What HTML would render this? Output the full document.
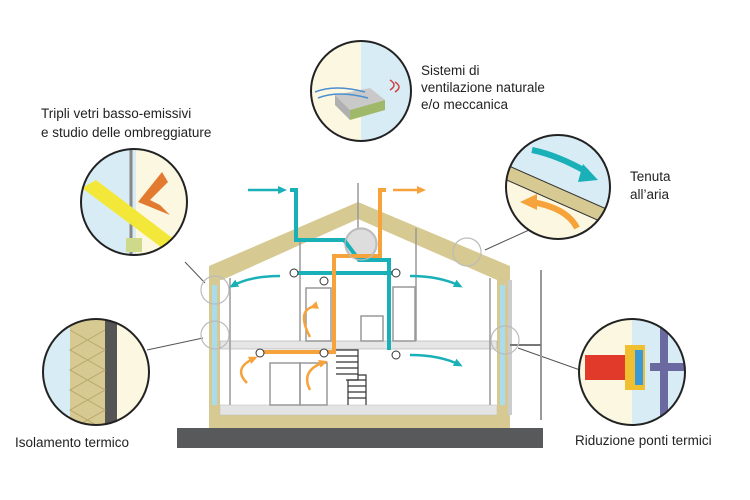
<!DOCTYPE html><html><head><style>body{margin:0;background:#fff}svg{display:block}text{font-family:"Liberation Sans",sans-serif;font-size:13.5px;fill:#222}</style></head><body>
<svg width="750" height="500" viewBox="0 0 750 500">
<defs>
<marker id="at" markerUnits="userSpaceOnUse" markerWidth="10" markerHeight="10" refX="6" refY="5" orient="auto"><path d="M0,1L9,5L0,9z" fill="#1ab0b8"/></marker>
<marker id="ao" markerUnits="userSpaceOnUse" markerWidth="10" markerHeight="10" refX="6" refY="5" orient="auto"><path d="M0,1L9,5L0,9z" fill="#f5a33a"/></marker>
<clipPath id="c1"><circle cx="361" cy="91" r="50"/></clipPath>
<clipPath id="c2"><circle cx="134" cy="202" r="53"/></clipPath>
<clipPath id="c3"><circle cx="558" cy="187" r="52"/></clipPath>
<clipPath id="c4"><circle cx="96" cy="372" r="53"/></clipPath>
<clipPath id="c5"><circle cx="632" cy="372" r="53"/></clipPath>
</defs>
<g stroke="#555" stroke-width="1"><line x1="185" y1="262" x2="205" y2="283"/><line x1="147" y1="350" x2="203" y2="338"/><line x1="540" y1="225" x2="485" y2="250"/><line x1="518" y1="348" x2="580" y2="370"/></g>
<rect x="177" y="428" width="366" height="20" fill="#58595b"/>
<rect x="209" y="415" width="301" height="13" fill="#d6c992"/>
<rect x="220" y="405" width="277" height="10" fill="#e4e4e4" stroke="#bbb" stroke-width=".5"/>
<rect x="209" y="268" width="11" height="150" fill="#d6c992"/>
<rect x="497" y="268" width="11" height="150" fill="#d6c992"/>
<rect x="212" y="285" width="5" height="120" fill="#a9dcef"/>
<rect x="500" y="285" width="5" height="120" fill="#a9dcef"/>
<rect x="220" y="341" width="277" height="8" fill="#e6e6e6" stroke="#aaa" stroke-width=".6"/>
<rect x="508" y="280" width="4" height="135" fill="#ccc"/>
<line x1="541" y1="270" x2="541" y2="420" stroke="#999" stroke-width="2"/>
<line x1="510" y1="345" x2="541" y2="345" stroke="#777" stroke-width="2"/>
<polygon points="209,266 358,202 510,266 510,280 497,280 358,219 222,280 209,280" fill="#d6c992"/>
<g fill="none" stroke="#999" stroke-width="1.5">
<rect x="306" y="288" width="25" height="53"/><rect x="393" y="287" width="22" height="54"/>
<rect x="270" y="363" width="30" height="42"/><rect x="300" y="363" width="27" height="42"/>
<rect x="361" y="316" width="22" height="25"/>
<line x1="300" y1="240" x2="300" y2="341"/><line x1="416" y1="228" x2="416" y2="341"/>
<line x1="230" y1="278" x2="230" y2="405"/><line x1="490" y1="278" x2="490" y2="405"/>
<line x1="358" y1="183" x2="358" y2="230"/>
</g>
<g stroke="#333" stroke-width="1.2" fill="none">
<path d="M336,350h22v30h-10v25M358,350v25h8v30"/>
<path d="M336,356h22M336,362h22M336,368h22M336,374h22M346,380h20M348,386h18M348,392h18M348,398h18"/>
</g>
<circle cx="361" cy="244" r="15" fill="#ddd" stroke="#bbb"/>
<g fill="none" stroke-width="4">
<path d="M290,190h6v50h48l15,20h30v90" stroke="#1ab0b8"/>
<path d="M290,273h106" stroke="#1ab0b8"/>
<path d="M386,190h-6v66h-46v96h-72" stroke="#f5a33a"/>
</g>
<g stroke-width="2.5" fill="none">
<path d="M248,190h36" stroke="#1ab0b8" marker-end="url(#at)"/>
<path d="M393,190h30" stroke="#f5a33a" marker-end="url(#ao)"/>
<path d="M280,276q-30,0-48,10" stroke="#1ab0b8" marker-end="url(#at)"/>
<path d="M410,276q30,0,50,10" stroke="#1ab0b8" marker-end="url(#at)"/>
<path d="M410,355q30,0,50,10" stroke="#1ab0b8" marker-end="url(#at)"/>
<path d="M312,307q-15,5-2,30" stroke="#f5a33a" marker-start="url(#ao)"/>
<path d="M247,383q-15,-15,8,-25" stroke="#f5a33a" marker-end="url(#ao)"/>
<path d="M310,390q-10,-20,15,-28" stroke="#f5a33a" marker-end="url(#ao)"/>
</g>
<g fill="#fff" stroke="#333" stroke-width="1"><circle cx="294" cy="273" r="4"/><circle cx="324" cy="281" r="4"/><circle cx="396" cy="273" r="4"/><circle cx="260" cy="353" r="4"/><circle cx="324" cy="353" r="4"/><circle cx="396" cy="355" r="4"/></g>
<g fill="none" stroke="#bbb" stroke-width="1.2"><circle cx="215" cy="290" r="14"/><circle cx="215" cy="335" r="14"/><circle cx="467" cy="252" r="14"/><circle cx="505" cy="340" r="14"/><circle cx="361" cy="244" r="16"/></g>
<g clip-path="url(#c1)"><rect x="300" y="30" width="61" height="130" fill="#fcf7e1"/><rect x="361" y="30" width="60" height="130" fill="#d8ecf6"/>
<polygon points="335,95 370,88 385,100 350,110" fill="#c9c9c9"/><polygon points="335,95 350,110 350,120 335,105" fill="#b0b0b0"/><polygon points="350,110 385,100 385,110 350,120" fill="#9fb86a"/>
<path d="M315,92q20,-8 50,0M318,98q20,-8 50,0" stroke="#4a8fd0" stroke-width="1.5" fill="none"/><path d="M390,90q8,-5 0,-10M395,92q8,-5 0,-10" stroke="#d04040" stroke-width="1.5" fill="none"/></g>
<circle cx="361" cy="91" r="50" fill="none" stroke="#222" stroke-width="2"/>
<g clip-path="url(#c2)"><rect x="75" y="140" width="120" height="130" fill="#d8ecf6"/><rect x="136" y="140" width="60" height="130" fill="#fcf7e1"/>
<line x1="131" y1="140" x2="131" y2="260" stroke="#888" stroke-width="3"/>
<polygon points="82,188 96,180 175,240 165,250" fill="#f3e83a"/>
<polygon points="162,172 138,202 170,215 160,205 150,200 168,182" fill="#e27a30"/>
<rect x="126" y="238" width="16" height="14" fill="#cfd98a"/></g>
<circle cx="134" cy="202" r="53" fill="none" stroke="#222" stroke-width="2"/>
<g clip-path="url(#c3)"><rect x="500" y="130" width="120" height="120" fill="#d8ecf6"/><polygon points="500,162 620,215 620,250 500,250" fill="#fcf7e1"/><polygon points="500,162 620,215 620,230 500,177" fill="#d6c992" stroke="#333" stroke-width="1"/>
<path d="M532,150q25,5 55,22" stroke="#1ab0b8" stroke-width="6" fill="none"/><polygon points="583,164 598,180 578,182" fill="#1ab0b8"/>
<path d="M577,228q-10,-20 -45,-26" stroke="#f5a33a" stroke-width="6" fill="none"/><polygon points="537,194 520,202 537,210" fill="#f5a33a"/></g>
<circle cx="558" cy="187" r="52" fill="none" stroke="#222" stroke-width="2"/>
<g clip-path="url(#c4)"><rect x="40" y="315" width="120" height="120" fill="#d8ecf6"/><rect x="70" y="315" width="35" height="120" fill="#d6c992"/><rect x="105" y="315" width="12" height="120" fill="#555"/><rect x="117" y="315" width="40" height="120" fill="#fcf7e1"/>
<path d="M70,330l35,20l-35,20l35,20l-35,20l35,20M105,330l-35,20l35,20l-35,20l35,20l-35,20" stroke="#b8a96a" fill="none"/></g>
<circle cx="96" cy="372" r="53" fill="none" stroke="#222" stroke-width="2"/>
<g clip-path="url(#c5)"><rect x="575" y="315" width="120" height="120" fill="#fcf7e1"/><rect x="632" y="315" width="60" height="120" fill="#d8ecf6"/><rect x="585" y="355" width="45" height="25" fill="#e23a2a"/>
<rect x="625" y="345" width="20" height="45" fill="#f0c030"/><rect x="635" y="350" width="8" height="35" fill="#3a9ad8"/><rect x="660" y="315" width="8" height="120" fill="#6a6aa0"/><rect x="650" y="363" width="40" height="8" fill="#6a6aa0"/></g>
<circle cx="632" cy="372" r="53" fill="none" stroke="#222" stroke-width="2"/>
<text x="421" y="75">Sistemi di</text><text x="421" y="92">ventilazione naturale</text><text x="421" y="109">e/o meccanica</text>
<text x="41" y="118">Tripli vetri basso-emissivi</text><text x="41" y="137">e studio delle ombreggiature</text>
<text x="630" y="181">Tenuta</text><text x="630" y="199">all’aria</text>
<text x="15" y="447">Isolamento termico</text>
<text x="575" y="445">Riduzione ponti termici</text>
</svg></body></html>
